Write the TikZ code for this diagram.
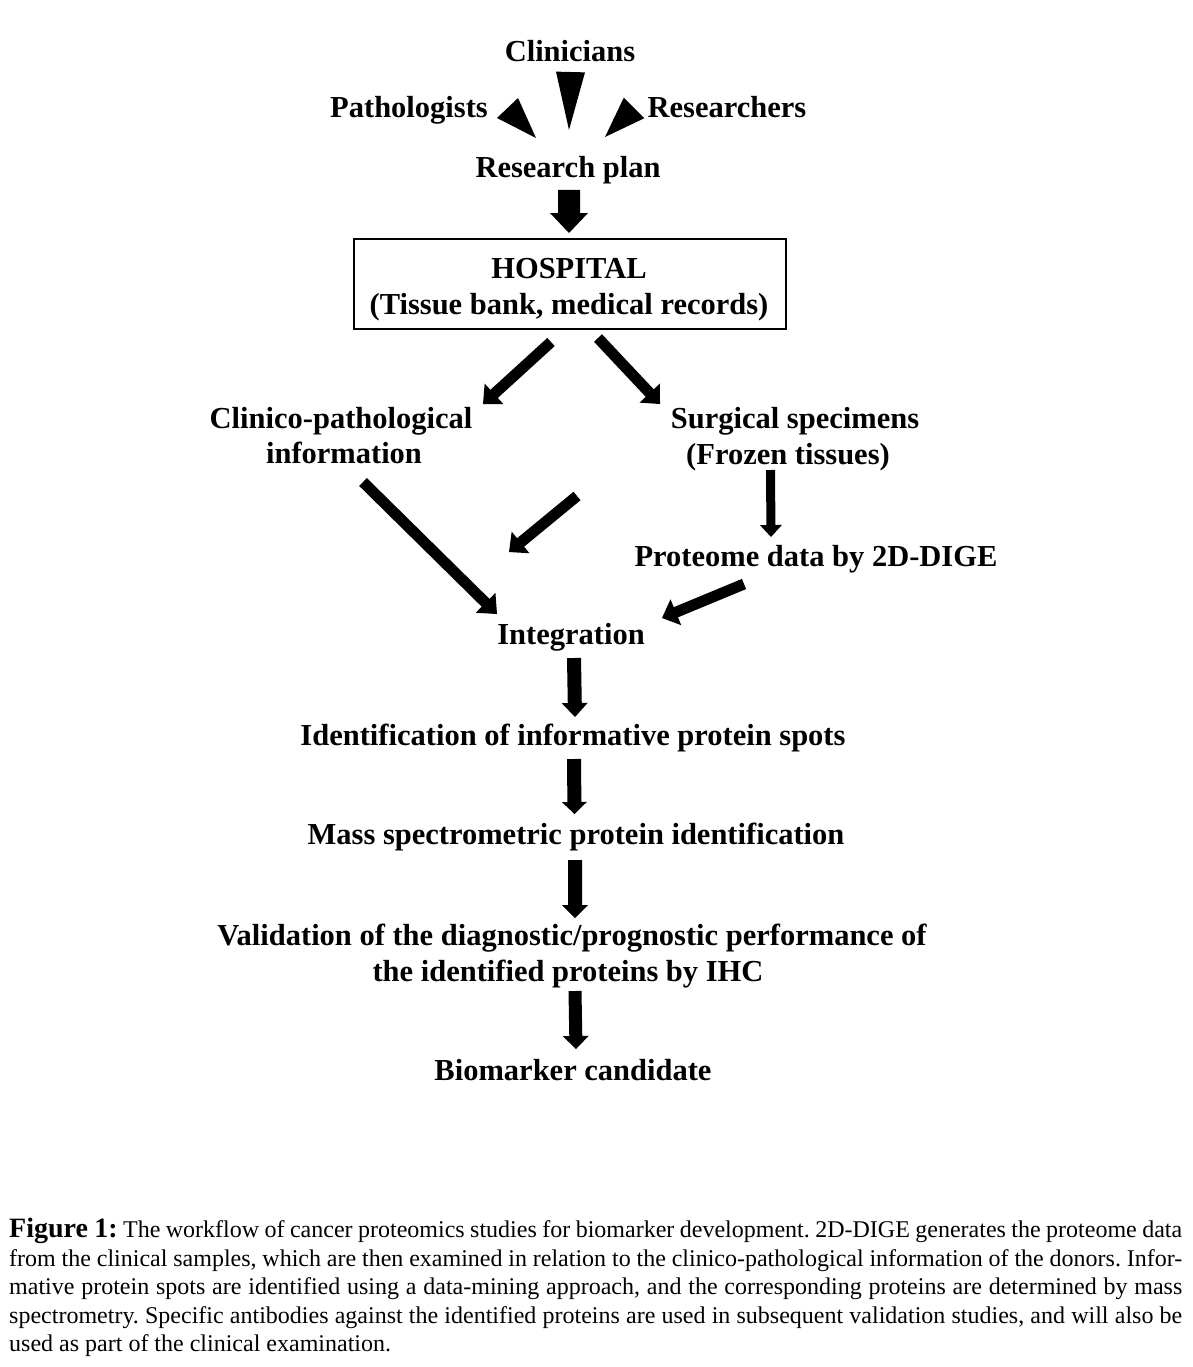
\documentclass[tikz,border=0pt]{standalone}
\usepackage{fontspec}
\setmainfont{Liberation Serif}
\usetikzlibrary{calc}
% #1 start, #2 end, #3 half shaft width, #4 half head width, #5 head length (all in pt)
\newcommand\blockarrow[5]{%
  \coordinate (bah) at ($(#2)!#5pt!(#1)$);
  \fill ($(#1)!#3pt!90:(#2)$) -- ($(bah)!#3pt!-90:(#1)$) -- ($(bah)!#4pt!-90:(#1)$) -- (#2)
     -- ($(bah)!#4pt!90:(#1)$) -- ($(bah)!#3pt!90:(#1)$) -- ($(#1)!#3pt!-90:(#2)$) -- cycle;}
% #1 base middle, #2 tip, #3 half width (pt)
\newcommand\headtri[3]{%
  \fill ($(#1)!#3pt!90:(#2)$) -- (#2) -- ($(#1)!#3pt!-90:(#2)$) -- cycle;}
\frenchspacing
\begin{document}
\begin{tikzpicture}[x=1pt,y=-1pt,
  lbl/.style={font=\bfseries\fontsize{30.5}{36}\selectfont, inner sep=0pt, anchor=base},
  boxnode/.style={draw, line width=2pt, minimum width=432pt, minimum height=90pt, inner sep=0pt}]
\fill[white] (0,0) rectangle (1192,1367);
\useasboundingbox (0,0) rectangle (1192,1367);

% labels
\node[lbl] (clin) at (570,62) {Clinicians};
\node[lbl] (path) at (409,118) {Pathologists};
\node[lbl] (resr) at (727,118) {Researchers};
\node[lbl] (plan) at (568,178) {Research plan};
\node[boxnode] (hosp) at (570,284) {};
\node[lbl] (hospA) at (569,278) {HOSPITAL};
\node[lbl] (hospB) at (569,314) {(Tissue bank, medical records)};
\node[lbl] (cpiA) at (341,428) {Clinico-pathological};
\node[lbl] (cpiB) at (344,463) {information};
\node[lbl] (surgA) at (795,428) {Surgical specimens};
\node[lbl] (surgB) at (788,464) {(Frozen tissues)};
\node[lbl] (prot) at (816,566) {Proteome data by 2D-DIGE};
\node[lbl] (integ) at (571,644) {Integration};
\node[lbl] (ident) at (573,745) {Identification of informative protein spots};
\node[lbl] (mass) at (576,844) {Mass spectrometric protein identification};
\node[lbl] (validA) at (572,945) {Validation of the diagnostic/prognostic performance of};
\node[lbl] (validB) at (568,981) {the identified proteins by IHC};
\node[lbl] (bio) at (573,1080) {Biomarker candidate};

% arrow end points
\coordinate (tcA) at (570.5,72);  \coordinate (tcB) at (569,130);
\coordinate (tlA) at (507.5,108); \coordinate (tlB) at (536,138);
\coordinate (trA) at (634,108);   \coordinate (trB) at (605,137);
\coordinate (rpA) at (569,190);   \coordinate (rpB) at (569,233);
\coordinate (hlA) at (551,342);   \coordinate (hlB) at (483,404);
\coordinate (hrA) at (598,338);   \coordinate (hrB) at (660,404);
\coordinate (ciA) at (363,482);   \coordinate (ciB) at (497,614);
\coordinate (miA) at (577,496);   \coordinate (miB) at (509,552);
\coordinate (prA) at (744,584);   \coordinate (prB) at (662,618);
\coordinate (suA) at (770.5,470); \coordinate (suB) at (771,537);
\coordinate (inA) at (574,658);   \coordinate (inB) at (575,717);
\coordinate (idA) at (574,759);   \coordinate (idB) at (574.5,814);
\coordinate (maA) at (575,860);   \coordinate (maB) at (575,918);
\coordinate (vaA) at (575,991);   \coordinate (vaB) at (576,1049);

% arrows
\headtri{tcA}{tcB}{14.5}
\headtri{tlA}{tlB}{14.5}
\headtri{trA}{trB}{14.5}
\blockarrow{rpA}{rpB}{11}{19}{20}
\blockarrow{hlA}{hlB}{5.5}{14}{15}
\blockarrow{hrA}{hrB}{5.5}{14}{15}
\blockarrow{ciA}{ciB}{5.5}{14}{16}
\blockarrow{miA}{miB}{5.5}{14}{15}
\blockarrow{prA}{prB}{5.5}{14}{15}
\blockarrow{suA}{suB}{4.5}{11}{12}
\blockarrow{inA}{inB}{7}{13}{14}
\blockarrow{idA}{idB}{7}{12.5}{12}
\blockarrow{maA}{maB}{7}{13}{13}
\blockarrow{vaA}{vaB}{6.5}{13}{13}

% caption
\node[anchor=north west, inner sep=0pt, align=left,
      font=\fontsize{24}{28.5}\selectfont] (cap) at (9,1217.5) {%
\hbox to 1173pt{\rule{0pt}{20pt}{\bfseries\fontsize{28}{28.5}\selectfont Figure 1:} The workflow of cancer proteomics studies for biomarker development. 2D-DIGE generates the proteome data}\\
\hbox to 1173pt{from the clinical samples, which are then examined in relation to the clinico-pathological information of the donors. Infor-}\\
\hbox to 1173pt{mative protein spots are identified using a data-mining approach, and the corresponding proteins are determined by mass}\\
\hbox to 1173pt{spectrometry. Specific antibodies against the identified proteins are used in subsequent validation studies, and will also be}\\
used as part of the clinical examination.};
\end{tikzpicture}
\end{document}
